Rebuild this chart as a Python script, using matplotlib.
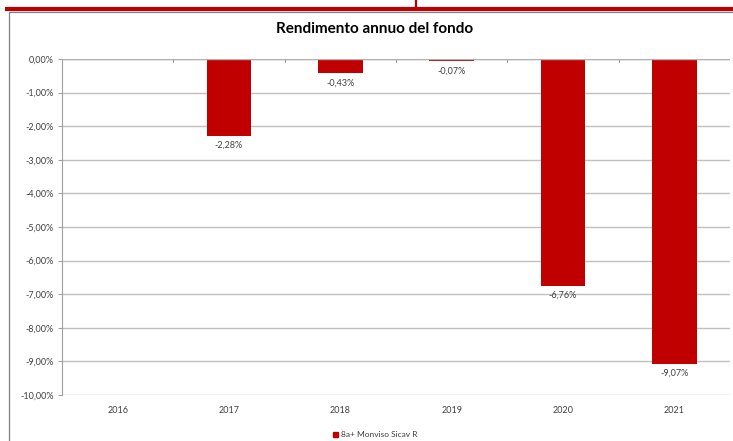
import matplotlib
matplotlib.use('Agg')
import matplotlib.pyplot as plt
from matplotlib.lines import Line2D
from matplotlib.patches import Rectangle
import numpy as np

# Data
years = ['2016', '2017', '2018', '2019', '2020', '2021']
returns = [np.nan, -2.28, -0.43, -0.07, -6.76, -9.07]
series_name = '8a+ Monviso Sicav R'

red = '#C00000'
W, H = 733, 441

plt.rcParams['font.family'] = ['Lato', 'DejaVu Sans']

fig = plt.figure(figsize=(W / 100, H / 100), dpi=100)

# red header line and small mark at the top
fig.add_artist(Line2D([416 / W, 416 / W], [1 - 9 / H, 1], color=red, lw=1.6))
fig.add_artist(Line2D([5 / W, 1], [1 - 9 / H, 1 - 9 / H], color=red, lw=3,
                      solid_capstyle='butt'))
# chart frame
fig.add_artist(Rectangle((9 / W, -0.05), 1, 1 - 11.5 / H + 0.05, fill=False,
                         edgecolor='#808080', lw=0.9))

ax = fig.add_axes([62 / W, 1 - 395 / H, (730 - 62) / W, (395 - 59) / H])
x = np.arange(len(years))
ax.bar(x, returns, width=0.4, color=red, zorder=3)

for xi, v in zip(x, returns):
    if np.isnan(v):
        continue
    ax.text(xi, v - 0.15, f'{v:.2f}%'.replace('.', ','), ha='center', va='top',
            fontsize=6.5, color='#404040')

ax.set_xlim(-0.5, len(years) - 0.5)
ax.set_ylim(-10, 0)
yt = np.arange(-10, 0.1, 1)
ax.set_yticks(yt)
ax.set_yticklabels([f'{t:.2f}%'.replace('.', ',') for t in yt], fontsize=6.5, color='#404040')
ax.set_xticks(x)
ax.set_xticklabels(years, fontsize=6.5, color='#404040')
ax.tick_params(axis='x', length=0, pad=8)
ax.tick_params(axis='y', length=3, color='#a0a0a0', pad=3)
ax.grid(axis='y', color='#c0c0c0', lw=1, zorder=0)

# category boundary ticks on the zero line
for b in np.arange(0.5, len(years) - 0.5, 1):
    ax.plot([b, b], [0, -0.08], color='#a0a0a0', lw=0.8, clip_on=False, zorder=4)

for s in ['top', 'right', 'bottom']:
    ax.spines[s].set_visible(False)
ax.spines['left'].set_color('#a0a0a0')
ax.axhline(0, color='#b0b0b0', lw=1, zorder=4)

fig.text(375 / W, 1 - 29 / H, 'Rendimento annuo del fondo', ha='center', va='center',
         fontsize=11, fontweight='bold', color='#000000')

# legend
fig.add_artist(Rectangle((333 / W, 1 - 437 / H), 5 / W, 5 / H, color=red))
fig.text(341 / W, 1 - 434.5 / H, series_name, ha='left', va='center', fontsize=6, color='#404040')

fig.savefig('out.png', dpi=100)
